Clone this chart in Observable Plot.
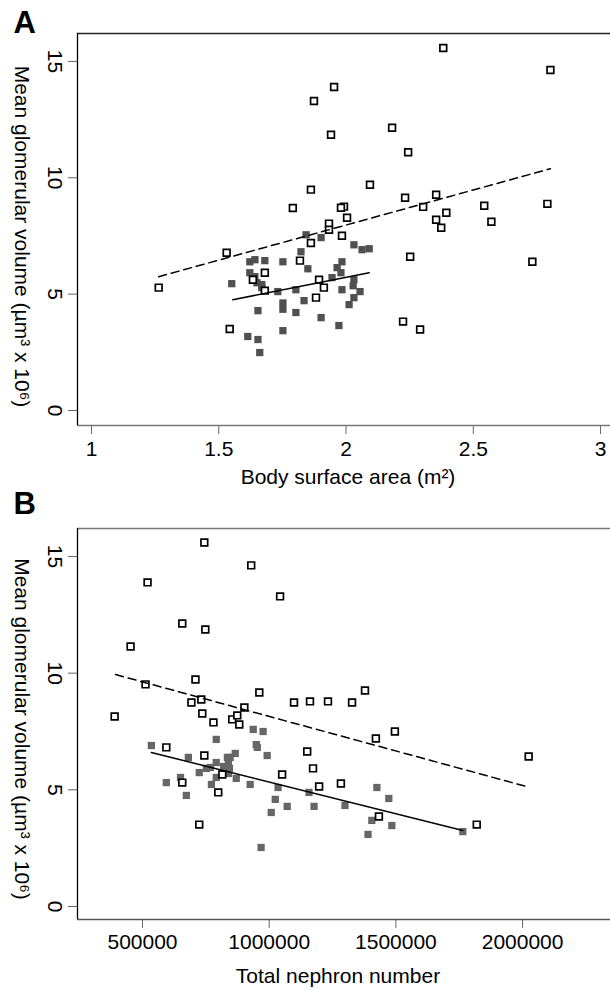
<!DOCTYPE html>
<html><head><meta charset="utf-8">
<script src="https://cdn.jsdelivr.net/npm/d3@7"></script>
<script src="https://cdn.jsdelivr.net/npm/@observablehq/plot@0.6"></script>
<style>body{margin:0;background:#fff;} svg{display:block;overflow:visible;} #chart{position:relative;width:610px;height:990px;} #chart svg{position:absolute;left:0;}</style>
</head><body><div id="chart"></div>
<script>
// ---------- Panel A: body surface area vs mean glomerular volume ----------
const aOpenBSA = [2.382,2.803,1.953,1.874,1.941,2.181,2.244,1.862,2.094,2.232,2.354,2.303,2.543,2.791,2.394,2.354,2.571,2.374,1.992,1.980,2.004,1.933,1.933,1.984,1.862,2.252,2.732,2.224,2.291,1.791,1.531,1.819,1.681,1.634,1.681,1.894,1.913,1.882,1.543,1.264];
const aOpenMGV = [15.58,14.63,13.9,13.3,11.85,12.15,11.1,9.49,9.70,9.14,9.27,8.75,8.80,8.88,8.50,8.20,8.11,7.85,8.76,8.71,8.28,8.03,7.77,7.51,7.2,6.61,6.39,3.82,3.48,8.70,6.78,6.44,5.92,5.62,5.15,5.62,5.28,4.85,3.50,5.28];
const aFilledBSA = [1.843,1.902,2.031,2.063,2.091,1.823,1.622,1.642,1.681,1.752,1.984,1.850,1.965,1.980,1.622,1.642,1.551,1.650,1.669,1.669,1.945,2.031,2.028,1.984,2.055,2.031,2.012,1.732,1.803,1.835,1.752,1.752,1.803,1.654,1.902,1.972,1.752,1.614,1.654,1.661];
const aFilledMGV = [7.55,7.43,7.12,6.91,6.95,6.82,6.39,6.48,6.44,6.39,6.39,6.09,6.14,5.92,5.92,5.75,5.45,5.49,5.41,5.28,5.71,5.62,5.36,5.19,5.11,4.85,4.55,5.11,5.19,4.72,4.62,4.35,4.21,4.29,3.99,3.65,3.43,3.18,3.05,2.49];
const aFitOpenX = [1.264, 2.803], aFitOpenY = [5.75, 10.39];
const aFitFilledX = [1.555, 2.091], aFitFilledY = [4.76, 5.92];
const aXTicks = [1, 1.5, 2, 2.5, 3];
const aXTitle = "Body surface area (m²)";

// ---------- Panel B: total nephron number vs mean glomerular volume ----------
const bOpenNN = [744000,929000,520000,1043000,657000,748000,453000,512000,709000,961000,732000,693000,1098000,902000,390000,736000,780000,854000,874000,882000,1161000,1232000,1327000,1378000,1421000,1496000,1150000,1173000,1051000,1197000,1283000,1433000,1819000,2024000,594000,744000,815000,657000,799000,724000];
const bOpenMGV = [15.6,14.62,13.89,13.29,12.13,11.87,11.14,9.52,9.73,9.17,8.87,8.74,8.74,8.53,8.14,8.27,7.89,8.02,8.19,7.80,8.79,8.79,8.74,9.26,7.2,7.5,6.64,5.92,5.66,5.14,5.27,3.86,3.51,6.43,6.82,6.47,5.66,5.31,4.89,3.51];
const bFilledNN = [937000,976000,791000,949000,953000,535000,992000,681000,866000,846000,835000,791000,839000,843000,768000,752000,724000,791000,839000,870000,772000,650000,594000,673000,925000,1035000,1024000,1071000,1008000,968000,1157000,1177000,1299000,1425000,1472000,1405000,1484000,1390000,1764000,820000];
const bFilledMGV = [7.59,7.5,7.16,6.94,6.82,6.9,6.47,6.39,6.56,6.39,6.39,6.17,6.13,5.92,5.96,5.92,5.74,5.53,5.70,5.49,5.23,5.53,5.31,4.76,5.23,5.1,4.59,4.29,4.03,2.53,4.89,4.29,4.33,5.1,4.63,3.69,3.47,3.09,3.21,6.0];
const bFitOpenX = [394000, 2016000], bFitOpenY = [9.94, 5.14];
const bFitFilledX = [535000, 1764000], bFitFilledY = [6.6, 3.26];
const bXTicks = [500000, 1000000, 1500000, 2000000];
const bXTitle = "Total nephron number";

const yTicks = [0, 5, 10, 15];
const yTitle = "Mean glomerular volume (µm³ x 10⁶)";

const zip = (xs, ys) => xs.map((x, i) => ({x, y: ys[i]}));

function panel(o) {
  const [x0, x1] = o.xDomain, [y0, y1] = o.yDomain;
  return Plot.plot({
    width: 610, height: o.height,
    marginLeft: 77, marginRight: 0, marginTop: o.mt, marginBottom: o.mb,
    style: {fontFamily: "'Liberation Sans', Arial, sans-serif", fontSize: "21px", background: o.bg, color: "black"},
    x: {domain: o.xDomain, label: null},
    y: {domain: o.yDomain, label: null},
    marks: [
      Plot.axisX({ticks: o.xTicks, tickSize: 9, tickPadding: o.tp, stroke: "#666", fontSize: 21, tickFormat: d => String(d), label: null}),
      Plot.axisY({ticks: yTicks, tickSize: 9, stroke: "#666", fill: "none", label: null}),
      Plot.text(yTicks, {x: x0, y: d => d, text: d => String(d), rotate: 90, dx: -23, fontSize: 21}),
      Plot.ruleY([y1], {stroke: o.topColor, strokeWidth: 1.3}),
      Plot.ruleY([y0], {stroke: o.bottomColor, strokeWidth: 1.3}),
      Plot.ruleX([x0], {stroke: "black", strokeWidth: 1.3}),
      Plot.dot(zip(o.fx, o.fy), {x: "x", y: "y", symbol: "square", r: 4.1, fill: o.filledColor, stroke: null}),
      Plot.dot(zip(o.ox, o.oy), {x: "x", y: "y", symbol: "square", r: 3.8, fill: "white", stroke: "black", strokeWidth: 1.7}),
      Plot.line(zip(o.fitOX, o.fitOY), {x: "x", y: "y", stroke: "black", strokeWidth: 1.5, strokeDasharray: "8,5"}),
      Plot.line(zip(o.fitFX, o.fitFY), {x: "x", y: "y", stroke: "black", strokeWidth: 1.5}),
      Plot.text([yTitle], {frameAnchor: "left", textAnchor: "middle", dx: -56, dy: o.ytdy, rotate: 90, fontSize: 21}),
      Plot.text([o.xTitle], {frameAnchor: "bottom", textAnchor: "middle", dx: o.xtdx, dy: o.xtdy, lineAnchor: "top", fontSize: 21}),
      Plot.text([o.letter], {frameAnchor: "top-left", dx: -64, dy: o.ldy, textAnchor: "start", lineAnchor: "top", fontSize: 31, fontWeight: "bold"})
    ]
  });
}

const chart = document.getElementById("chart");
const svgA = panel({
  height: 490, mt: 33, mb: 65, bg: "white",
  xDomain: [0.945, 3.039], yDomain: [-0.645, 16.2],
  xTicks: aXTicks, tp: 7, xTitle: aXTitle, xtdx: 4, xtdy: 44, ytdy: 7,
  ox: aOpenBSA, oy: aOpenMGV, fx: aFilledBSA, fy: aFilledMGV,
  fitOX: aFitOpenX, fitOY: aFitOpenY, fitFX: aFitFilledX, fitFY: aFitFilledY,
  filledColor: "#505050", topColor: "#222", bottomColor: "#777",
  letter: "A", ldy: -23
});
svgA.style.top = "0px";
chart.appendChild(svgA);
const svgB = panel({
  height: 510, mt: 48, mb: 71, bg: "transparent",
  xDomain: [243500, 2346900], yDomain: [-0.557, 16.2],
  xTicks: bXTicks, tp: 6, xTitle: bXTitle, xtdx: -6, xtdy: 49, ytdy: 5,
  ox: bOpenNN, oy: bOpenMGV, fx: bFilledNN, fy: bFilledMGV,
  fitOX: bFitOpenX, fitOY: bFitOpenY, fitFX: bFitFilledX, fitFY: bFitFilledY,
  filledColor: "#666", topColor: "#777", bottomColor: "#555",
  letter: "B", ldy: -37
});
svgB.style.top = "480px";
chart.appendChild(svgB);
</script>
</body></html>
